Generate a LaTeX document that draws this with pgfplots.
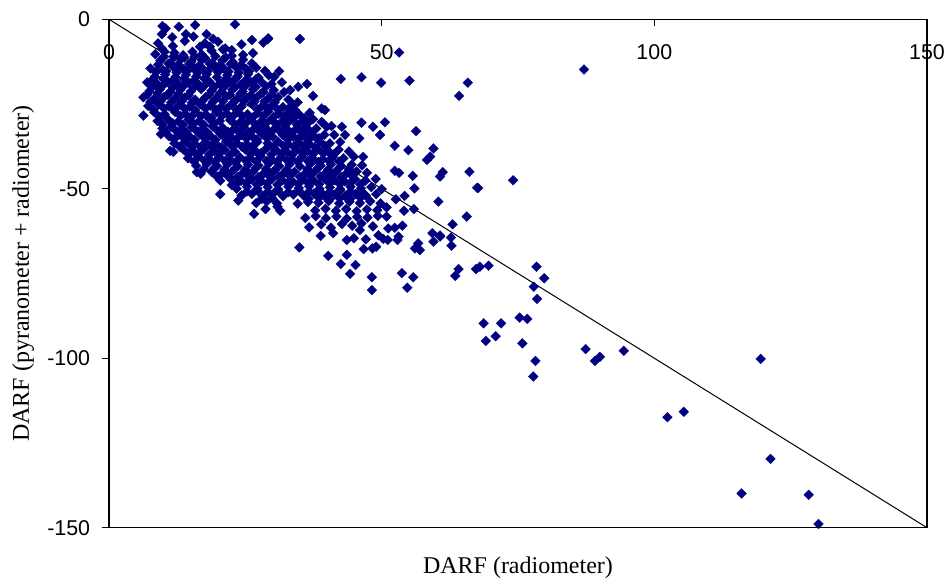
\documentclass[border=0pt]{standalone}
\usepackage{pgfplots}
\pgfplotsset{compat=1.18}
\usepackage{fontspec}
\setmainfont{Liberation Serif}
\newfontfamily\arialfont{Liberation Sans}
\definecolor{darfblue}{HTML}{000080}
\begin{document}
\begin{tikzpicture}
\path[use as bounding box] (-54.5pt,-27.65pt) rectangle (421pt,263.85pt);
\begin{axis}[
  at={(0,0)}, anchor=south west,
  scale only axis, width=409pt, height=254.2pt,
  xmin=0, xmax=150, ymin=-150, ymax=0,
  axis line style={line width=0.6pt, black},
  major tick style={black, line width=0.6pt},
  major tick length=3.5pt,
  xtick={0,50,100,150}, ytick={-150,-100,-50,0},
  xtick pos=top, xticklabel pos=upper,
  ytick pos=left,
  xtick align=inside, ytick align=outside,
  ticklabel style={font=\arialfont\fontsize{10.7}{12}\selectfont},
  /pgf/number format/assume math mode=true,
  xticklabel style={anchor=base, yshift=-20pt},
  yticklabel style={xshift=-2.4pt},
  xlabel={DARF (radiometer)},
  ylabel={DARF (pyranometer + radiometer)},
  label style={font=\fontsize{12}{14}\selectfont},
  xlabel style={at={(axis description cs:0.5,0)}, anchor=base, yshift=-22.8pt},
  ylabel style={at={(axis description cs:-0.1051,0.5)}, anchor=center},
]
\addplot[only marks, mark=square*, mark size=1.75pt,
  mark options={rotate=45, fill=darfblue, draw=darfblue, line width=0.1pt}]
coordinates {
(9.8,-2.0)(10.4,-2.7)(12.8,-2.2)(15.8,-1.7)(23.1,-1.5)(9.7,-4.4)(11.6,-5.3)(14.1,-4.4)(15.5,-5.1)(17.9,-4.4)(19.1,-5.8)(20.0,-6.6)(9.0,-7.1)(9.7,-8.6)(11.7,-7.9)(13.9,-6.4)(16.7,-8.1)(17.6,-7.1)(18.5,-8.1)(21.3,-8.6)(24.3,-7.4)(26.2,-6.1)(28.3,-6.9)(29.1,-5.9)(35.0,-5.8)(29.2,-5.6)(22.5,-9.1)
(8.5,-10.3)(10.2,-9.6)(12.0,-9.9)(13.6,-10.6)(15.3,-9.6)(17.0,-10.4)(18.8,-9.3)(20.9,-8.9)(22.5,-10.8)(24.6,-10.5)(26.4,-10.0)
(9.4,-12.2)(11.3,-12.8)(13.2,-11.8)(15.1,-12.5)(17.0,-12.0)(18.9,-12.9)(20.8,-12.1)(22.7,-12.6)(24.6,-11.9)(26.2,-13.0)
(7.6,-14.5)(9.9,-15.0)(11.8,-14.1)(13.7,-14.8)(15.6,-14.2)(17.5,-15.1)(19.4,-14.3)(21.3,-14.9)(23.2,-14.0)(25.1,-14.6)(27.0,-14.3)(28.6,-15.2)(31.2,-15.3)
(8.4,-16.9)(10.3,-16.3)(12.2,-17.0)(14.1,-16.4)(16.0,-16.9)(17.9,-16.2)(19.8,-17.1)(21.7,-16.5)(23.6,-16.8)(25.5,-16.2)(27.4,-17.2)(29.3,-16.5)(30.3,-17.0)
(7.0,-18.6)(8.9,-19.2)(10.8,-18.5)(12.7,-19.1)(14.6,-18.7)(16.5,-19.3)(18.4,-18.4)(20.3,-19.0)(22.2,-18.6)(24.1,-19.3)(26.0,-18.5)(27.9,-18.4)(29.8,-19.1)(31.7,-18.6)(34.7,-19.9)(36.3,-19.1)(42.5,-17.6)(46.3,-17.1)(49.9,-18.7)(55.1,-18.1)
(7.4,-21.2)(9.3,-20.7)(11.2,-21.4)(13.1,-20.8)(15.0,-21.3)(16.9,-20.6)(18.8,-21.1)(20.7,-21.5)(22.6,-20.8)(24.5,-21.3)(26.4,-20.7)(28.3,-21.4)(30.2,-20.9)(32.1,-21.5)(33.2,-20.9)
(6.3,-23.0)(8.2,-23.6)(10.1,-22.9)(12.0,-23.5)(13.9,-23.1)(15.8,-23.7)(17.7,-23.0)(19.6,-23.4)(21.5,-22.8)(23.4,-23.6)(25.3,-23.2)(27.2,-22.9)(29.1,-23.5)(31.0,-23.0)(32.9,-23.7)(37.4,-22.6)(34.6,-24.5)
(7.2,-25.6)(9.1,-25.0)(11.0,-25.7)(12.9,-25.2)(14.8,-25.8)(16.7,-25.1)(18.6,-25.5)(20.5,-25.9)(22.4,-25.2)(24.3,-25.7)(26.2,-25.0)(28.1,-25.6)(30.0,-25.3)(31.9,-25.9)(33.8,-25.2)(39.0,-26.3)(39.6,-26.8)(34.1,-26.8)
(6.3,-28.4)(8.3,-27.4)(10.2,-28.0)(12.1,-27.3)(14.0,-27.9)(15.9,-27.5)(17.8,-28.1)(19.7,-27.3)(21.6,-27.8)(23.5,-27.4)(25.4,-28.0)(27.3,-27.6)(29.2,-27.2)(31.1,-27.9)(33.0,-27.5)(34.9,-28.1)(36.8,-27.6)(35.9,-29.2)(32.6,-28.7)
(8.9,-30.0)(10.8,-29.5)(12.7,-30.2)(14.6,-29.6)(16.5,-30.1)(18.4,-29.4)(20.3,-30.0)(22.2,-29.7)(24.1,-30.3)(26.0,-29.5)(27.9,-30.1)(29.8,-29.6)(31.7,-30.2)(33.6,-29.4)(35.5,-30.0)(37.4,-29.5)(39.0,-30.3)(40.8,-31.5)(42.7,-31.7)(46.3,-30.5)(48.4,-31.7)(50.6,-30.4)
(9.5,-33.9)(9.8,-32.2)(11.4,-31.7)(13.3,-32.4)(15.2,-31.8)(17.1,-32.3)(19.0,-31.6)(20.9,-32.1)(22.8,-32.5)(24.7,-31.8)(26.6,-32.3)(28.5,-31.7)(30.4,-32.2)(32.3,-31.9)(34.2,-32.5)(36.1,-31.8)(38.0,-32.2)(39.9,-31.7)(56.3,-33.0)
(11.0,-34.5)(12.9,-34.0)(14.8,-34.6)(16.7,-33.9)(18.6,-34.4)(20.5,-34.0)(22.4,-34.7)(24.3,-34.1)(26.2,-34.5)(28.1,-33.9)(30.0,-34.6)(31.9,-34.2)(33.8,-34.7)(35.7,-34.0)(37.6,-34.5)(39.5,-34.1)(41.3,-34.1)(43.3,-34.1)(45.9,-35.1)(49.7,-34.1)
(12.0,-36.6)(13.9,-36.1)(15.8,-36.8)(17.7,-36.2)(19.6,-36.7)(21.5,-36.0)(23.4,-36.5)(25.3,-36.9)(27.2,-36.2)(29.1,-36.6)(31.0,-36.1)(32.9,-36.8)(34.8,-36.3)(36.7,-36.7)(38.6,-36.0)(40.5,-36.6)(42.4,-36.2)(52.4,-37.3)(54.9,-38.6)(59.5,-38.1)(58.9,-40.5)(58.3,-41.5)
(11.2,-38.8)(11.8,-39.1)(13.6,-38.4)(15.5,-39.0)(17.4,-38.3)(19.3,-38.8)(21.2,-38.5)(23.1,-39.1)(25.0,-38.4)(26.9,-38.9)(28.8,-38.2)(30.7,-38.7)(32.6,-39.0)(34.5,-38.4)(36.4,-38.9)(38.3,-38.3)(40.2,-38.8)(42.1,-38.5)(44.0,-39.0)
(14.5,-41.0)(16.4,-40.5)(18.3,-41.1)(20.2,-40.6)(22.1,-41.2)(24.0,-40.7)(25.9,-41.0)(27.8,-40.4)(29.7,-41.1)(31.6,-40.6)(33.5,-41.2)(35.4,-40.5)(37.3,-40.9)(39.2,-41.3)(41.1,-40.6)(43.0,-41.0)(44.9,-40.5)(46.6,-40.6)
(16.0,-43.2)(17.9,-42.7)(19.8,-43.3)(21.7,-42.8)(23.6,-43.4)(25.5,-42.9)(27.4,-43.1)(29.3,-42.6)(31.2,-43.3)(33.1,-42.8)(35.0,-43.4)(36.9,-42.7)(38.8,-43.2)(40.7,-42.8)(42.6,-43.3)(44.5,-42.9)(46.4,-43.1)
(16.1,-45.1)(16.8,-45.6)(18.8,-45.0)(20.7,-45.5)(22.6,-44.9)(24.5,-45.4)(26.4,-45.0)(28.3,-45.6)(30.2,-44.9)(32.1,-45.3)(34.0,-45.0)(35.9,-45.6)(37.8,-44.8)(39.7,-45.4)(41.6,-45.0)(43.5,-45.5)(45.4,-44.9)(47.3,-45.3)(52.4,-44.7)(53.2,-45.3)(55.7,-46.2)(60.7,-46.4)(61.2,-45.1)(66.1,-45.0)
(20.4,-47.6)(22.3,-47.1)(24.2,-47.7)(26.1,-47.2)(28.0,-47.8)(29.9,-47.1)(31.8,-47.5)(33.7,-47.9)(35.6,-47.2)(37.5,-47.6)(39.4,-47.0)(41.3,-47.5)(43.2,-47.8)(45.1,-47.2)(47.0,-47.6)(48.9,-47.1)(74.1,-47.5)
(22.5,-48.9)(23.4,-50.0)(25.3,-49.4)(27.2,-49.9)(29.1,-49.5)(31.0,-50.1)(32.9,-49.4)(34.8,-49.8)(36.7,-49.3)(38.6,-50.0)(40.5,-49.6)(42.4,-50.1)(44.3,-49.4)(46.2,-49.9)(48.1,-49.5)(50.0,-50.1)(56.0,-49.9)(67.5,-49.7)
(20.4,-51.6)(24.3,-52.0)(26.2,-51.5)(28.1,-52.1)(30.0,-51.6)(31.9,-52.2)(33.8,-51.7)(35.7,-52.0)(37.6,-51.4)(39.5,-52.1)(41.4,-51.7)(43.3,-52.2)(45.2,-51.5)(47.1,-52.0)(49.0,-51.6)(54.2,-52.1)(52.6,-53.1)
(23.7,-53.5)(27.0,-54.2)(28.9,-53.7)(30.8,-54.3)(34.6,-54.4)(36.5,-53.9)(38.4,-54.1)(40.3,-53.6)(42.2,-54.3)(44.1,-53.8)(46.0,-54.2)(47.9,-53.7)(49.8,-54.3)(60.4,-53.8)
(26.6,-57.4)(28.7,-56.0)(30.9,-55.3)(31.4,-56.5)(37.8,-56.4)(39.7,-55.9)(41.6,-56.5)(43.5,-56.0)(45.4,-56.6)(47.3,-56.1)(49.2,-56.3)(50.9,-55.5)(54.1,-56.5)(55.9,-56.0)
(36.0,-58.6)(37.9,-58.1)(39.8,-58.7)(41.7,-58.2)(43.6,-58.8)(45.5,-58.3)(47.4,-58.5)(49.3,-58.0)(50.9,-58.2)(65.6,-58.2)
(36.7,-61.4)(38.9,-60.5)(40.7,-61.5)(42.7,-60.4)(44.6,-60.9)(46.3,-60.2)(48.4,-61.1)(51.2,-61.7)(52.4,-61.5)(53.8,-60.9)(63.0,-60.5)
(38.8,-63.9)(41.1,-63.1)(43.6,-65.1)(44.9,-64.6)(46.0,-62.2)(47.1,-64.9)(49.4,-63.7)(50.3,-64.8)(59.3,-63.1)(60.7,-63.8)
(51.1,-65.1)(52.9,-65.1)(53.1,-64.1)(56.7,-66.1)(56.1,-67.6)(57.0,-68.1)(59.5,-65.6)(60.7,-64.1)(62.7,-64.4)(62.8,-66.8)(53.7,-74.9)(55.8,-76.1)(54.7,-79.2)(64.1,-73.7)(63.5,-75.7)(67.3,-73.7)(68.0,-73.0)(69.6,-72.7)(34.9,-67.3)(40.2,-69.8)(43.6,-69.5)(42.5,-72.2)(45.2,-72.5)(44.2,-75.1)(48.2,-76.1)(48.2,-79.9)(46.7,-67.8)(48.3,-67.6)(49.0,-67.1)
(53.2,-9.8)(65.8,-18.7)(64.2,-22.6)(87.1,-14.8)(67.7,-49.8)(78.4,-73.0)(79.8,-76.4)(77.9,-78.9)(78.5,-82.5)(68.7,-89.7)(71.9,-89.7)(69.1,-94.9)(70.9,-93.5)(75.3,-88.0)(76.7,-88.4)(75.8,-95.6)(78.2,-100.8)(77.8,-105.4)(87.4,-97.3)(89.1,-100.8)(90.0,-99.6)(94.4,-97.8)(102.4,-117.4)(105.4,-115.8)(119.5,-100.2)(121.3,-129.7)(116.0,-139.9)(128.3,-140.3)(130.1,-148.9)
(10.0,-11.2)(11.9,-10.9)(13.8,-11.3)(15.7,-11.0)(17.6,-11.4)(19.5,-10.9)(21.4,-11.2)
(9.0,-13.4)(10.9,-13.1)(12.8,-13.5)(14.7,-13.2)(16.6,-13.6)(18.5,-13.1)(20.4,-13.4)(22.3,-13.2)(24.2,-13.5)
(8.6,-15.6)(10.5,-15.3)(12.4,-15.7)(14.3,-15.4)(16.2,-15.8)(18.1,-15.3)(20.0,-15.6)(21.9,-15.4)(23.8,-15.7)(25.7,-15.3)
(8.0,-17.8)(9.9,-17.5)(11.8,-17.9)(13.7,-17.6)(15.6,-18.0)(17.5,-17.5)(21.3,-17.8)(23.2,-17.5)(25.1,-17.9)(27.0,-17.6)
(7.9,-20.0)(9.8,-19.7)(11.7,-20.1)(13.6,-19.8)(15.5,-20.2)(17.4,-19.7)(19.3,-20.0)(21.2,-19.8)(23.1,-20.1)(25.0,-19.7)(26.9,-20.0)(28.8,-19.8)
(7.0,-22.2)(8.9,-21.9)(10.8,-22.3)(12.7,-22.0)(14.6,-22.4)(18.4,-22.2)(20.3,-21.9)(22.2,-22.3)(24.1,-22.0)(26.0,-22.4)(27.9,-21.9)(29.8,-22.2)
(7.6,-24.4)(9.5,-24.1)(11.4,-24.5)(13.3,-24.2)(15.2,-24.6)(17.1,-24.1)(19.0,-24.4)(20.9,-24.2)(22.8,-24.5)(24.7,-24.1)(26.6,-24.4)(28.5,-24.2)(30.4,-24.5)
(8.2,-26.6)(10.1,-26.3)(12.0,-26.7)(13.9,-26.4)(15.8,-26.8)(17.7,-26.3)(19.6,-26.6)(21.5,-26.4)(23.4,-26.7)(27.2,-26.6)(29.1,-26.3)(31.0,-26.7)(32.9,-26.4)
(9.3,-28.8)(13.1,-28.5)(15.0,-28.9)(16.9,-28.6)(18.8,-29.0)(20.7,-28.5)(22.6,-28.8)(24.5,-28.6)(26.4,-28.9)(28.3,-28.5)(30.2,-28.8)(32.1,-28.6)(34.0,-28.9)
(9.8,-31.0)(11.7,-30.7)(13.6,-31.1)(15.5,-30.8)(17.4,-31.2)(19.3,-30.7)(23.1,-31.0)(25.0,-30.8)(26.9,-31.1)(28.8,-30.7)(30.7,-31.0)(32.6,-30.8)(34.5,-31.1)(36.4,-30.7)
(10.4,-33.2)(12.3,-32.9)(14.2,-33.3)(16.1,-33.0)(18.0,-33.4)(19.9,-32.9)(21.8,-33.2)(23.7,-33.0)(25.6,-33.3)(27.5,-32.9)(29.4,-33.2)(31.3,-33.0)(33.2,-33.3)(35.1,-32.9)(37.0,-33.2)
(11.9,-35.4)(13.8,-35.1)(15.7,-35.5)(17.6,-35.2)(19.5,-35.6)(21.4,-35.1)(23.3,-35.4)(25.2,-35.2)(27.1,-35.5)(29.0,-35.1)(32.8,-35.4)(34.7,-35.2)(36.6,-35.5)(38.5,-35.1)
(13.0,-37.6)(14.9,-37.3)(16.8,-37.7)(18.7,-37.4)(20.6,-37.8)(22.5,-37.3)(24.4,-37.6)(26.3,-37.4)(30.1,-37.7)(32.0,-37.3)(33.9,-37.6)(35.8,-37.4)(37.7,-37.7)(39.6,-37.3)
(14.6,-39.8)(16.5,-39.5)(18.4,-39.9)(20.3,-39.6)(22.2,-40.0)(26.0,-39.8)(27.9,-39.5)(29.8,-39.9)(31.7,-39.6)(33.6,-40.0)(35.5,-39.5)(37.4,-39.8)(39.3,-39.6)(41.2,-39.9)
(15.6,-42.0)(17.5,-41.7)(19.4,-42.1)(21.3,-41.8)(23.2,-42.2)(25.1,-41.7)(27.0,-42.0)(28.9,-41.8)(30.8,-42.1)(32.7,-41.7)(34.6,-42.0)(36.5,-41.8)(38.4,-42.1)(40.3,-41.7)(42.2,-42.0)
(17.4,-44.2)(19.3,-43.9)(21.2,-44.3)(23.1,-44.0)(25.0,-44.4)(26.9,-43.9)(28.8,-44.2)(30.7,-44.0)(32.6,-44.3)(36.4,-44.2)(38.3,-43.9)(40.2,-44.3)(42.1,-44.0)(44.0,-44.2)
(19.8,-46.4)(21.7,-46.1)(23.6,-46.5)(25.5,-46.2)(27.4,-46.6)(29.3,-46.1)(31.2,-46.4)(33.1,-46.2)(35.0,-46.5)(36.9,-46.1)(38.8,-46.4)(40.7,-46.2)(42.6,-46.5)(44.5,-46.1)
(23.3,-48.6)(25.2,-48.3)(27.1,-48.7)(29.0,-48.4)(30.9,-48.8)(32.8,-48.3)(34.7,-48.6)(36.6,-48.4)(38.5,-48.7)(40.4,-48.3)(42.3,-48.6)(44.2,-48.4)(46.1,-48.7)
(25.3,-50.8)(27.2,-50.5)(29.1,-50.9)(31.0,-50.6)(32.9,-51.0)(34.8,-50.5)(36.7,-50.8)(38.6,-50.6)(40.5,-50.9)(42.4,-50.5)(44.3,-50.8)(46.2,-50.6)
(28.0,-53.0)(29.9,-52.7)(36.6,-53.0)(38.5,-52.7)(40.4,-53.1)(42.3,-52.8)(44.2,-53.0)(46.1,-52.7)
};
\addplot[black, line width=0.5pt, mark=none] coordinates {(0,0) (150,-150)};
\end{axis}
\draw[black, line width=0.6pt] (0,0) rectangle (409pt,254.2pt);
\end{tikzpicture}
\end{document}
